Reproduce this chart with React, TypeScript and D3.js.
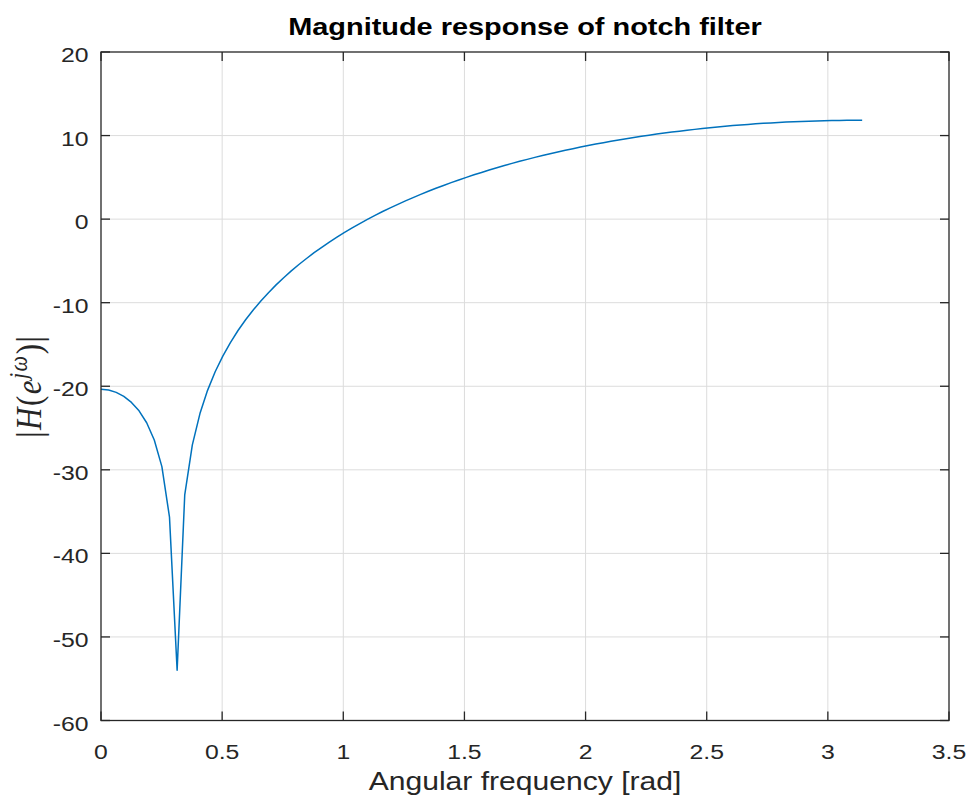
import React, { useEffect, useRef } from 'react';
import * as d3 from 'd3';

// angular frequency samples (rad)
const omega = [
  0, 0.0314, 0.0628, 0.0942, 0.1257, 0.1571, 0.1885, 0.2199, 0.2513, 0.2827,
  0.3142, 0.3456, 0.3770, 0.4084, 0.4398, 0.4712, 0.5027, 0.5341, 0.5655, 0.5969,
  0.6283, 0.6597, 0.6912, 0.7226, 0.7540, 0.7854, 0.8168, 0.8482, 0.8796, 0.9111,
  0.9425, 0.9739, 1.0053, 1.0367, 1.0681, 1.0996, 1.1310, 1.1624, 1.1938, 1.2252,
  1.2566, 1.2881, 1.3195, 1.3509, 1.3823, 1.4137, 1.4451, 1.4765, 1.5080, 1.5394,
  1.5708, 1.6022, 1.6336, 1.6650, 1.6965, 1.7279, 1.7593, 1.7907, 1.8221, 1.8535,
  1.8850, 1.9164, 1.9478, 1.9792, 2.0106, 2.0420, 2.0735, 2.1049, 2.1363, 2.1677,
  2.1991, 2.2305, 2.2619, 2.2934, 2.3248, 2.3562, 2.3876, 2.4190, 2.4504, 2.4819,
  2.5133, 2.5447, 2.5761, 2.6075, 2.6389, 2.6704, 2.7018, 2.7332, 2.7646, 2.7960,
  2.8274, 2.8588, 2.8903, 2.9217, 2.9531, 2.9845, 3.0159, 3.0473, 3.0788, 3.1102,
  3.1416,
];

// magnitude (dB)
const magDb = [
  -20.36, -20.45, -20.73, -21.21, -21.93, -22.94, -24.37, -26.43, -29.62, -35.66,
  -53.98, -33.01, -27.02, -23.27, -20.49, -18.27, -16.39, -14.77, -13.33, -12.04,
  -10.87, -9.79, -8.80, -7.87, -7.01, -6.20, -5.43, -4.71, -4.02, -3.37,
  -2.75, -2.16, -1.59, -1.05, -0.53, -0.03, 0.45, 0.91, 1.35, 1.77,
  2.19, 2.58, 2.96, 3.33, 3.69, 4.03, 4.37, 4.69, 5.00, 5.30,
  5.59, 5.88, 6.15, 6.41, 6.67, 6.92, 7.15, 7.39, 7.61, 7.83,
  8.04, 8.24, 8.43, 8.62, 8.80, 8.98, 9.15, 9.31, 9.47, 9.62,
  9.77, 9.91, 10.05, 10.18, 10.30, 10.42, 10.53, 10.64, 10.74, 10.84,
  10.94, 11.02, 11.11, 11.19, 11.26, 11.33, 11.40, 11.46, 11.51, 11.56,
  11.61, 11.65, 11.69, 11.72, 11.75, 11.78, 11.80, 11.81, 11.82, 11.83,
  11.83,
];

const xTicks = [0, 0.5, 1, 1.5, 2, 2.5, 3, 3.5];
const xTickLabels = ['0', '0.5', '1', '1.5', '2', '2.5', '3', '3.5'];
const yTicks = [-60, -50, -40, -30, -20, -10, 0, 10, 20];
const yTickLabels = ['-60', '-50', '-40', '-30', '-20', '-10', '0', '10', '20'];

const titleText = 'Magnitude response of notch filter';
const xLabelText = 'Angular frequency [rad]';

export default function App() {
  const ref = useRef<SVGSVGElement>(null);

  useEffect(() => {
    const width = 971, height = 805;
    const margin = { top: 52, right: 22, bottom: 84.5, left: 101 };
    const axisColor = '#262626';
    const sans = '"Liberation Sans", Arial, Helvetica, sans-serif';
    const sx = 1.18; // text in the reference is a bit wider than Arial

    const svg = d3.select(ref.current);
    svg.selectAll('*').remove();
    svg.attr('width', width).attr('height', height);

    svg.append('rect').attr('width', width).attr('height', height).attr('fill', '#ffffff');

    const x = d3.scaleLinear().domain([0, 3.5]).range([margin.left, width - margin.right]);
    const y = d3.scaleLinear().domain([-60, 20]).range([height - margin.bottom, margin.top]);

    const [x0, x1] = x.range();
    const [y0, y1] = y.range();

    // grid
    const grid = svg.append('g').attr('stroke', '#dcdcdc').attr('stroke-width', 1);
    grid.selectAll('line.gx')
      .data(xTicks.slice(1, -1))
      .join('line')
      .attr('x1', (d) => x(d)).attr('x2', (d) => x(d))
      .attr('y1', y1).attr('y2', y0);
    grid.selectAll('line.gy')
      .data(yTicks.slice(1, -1))
      .join('line')
      .attr('x1', x0).attr('x2', x1)
      .attr('y1', (d) => y(d)).attr('y2', (d) => y(d));

    // curve
    const pts = omega.map((w, i) => [w, magDb[i]] as [number, number]);
    const line = d3.line<[number, number]>().x((d) => x(d[0])).y((d) => y(d[1]));
    svg.append('path')
      .datum(pts)
      .attr('d', line)
      .attr('fill', 'none')
      .attr('stroke', '#0072BD')
      .attr('stroke-width', 1.5)
      .attr('stroke-linejoin', 'round');

    // ticks (inside, on all four sides)
    const tl = 9;
    const ticks = svg.append('g').attr('stroke', axisColor).attr('stroke-width', 1.3);
    xTicks.forEach((t) => {
      ticks.append('line').attr('x1', x(t)).attr('x2', x(t)).attr('y1', y0).attr('y2', y0 - tl);
      ticks.append('line').attr('x1', x(t)).attr('x2', x(t)).attr('y1', y1).attr('y2', y1 + tl);
    });
    yTicks.forEach((t) => {
      ticks.append('line').attr('x1', x0).attr('x2', x0 + tl).attr('y1', y(t)).attr('y2', y(t));
      ticks.append('line').attr('x1', x1).attr('x2', x1 - tl).attr('y1', y(t)).attr('y2', y(t));
    });

    // box
    svg.append('rect')
      .attr('x', x0).attr('y', y1)
      .attr('width', x1 - x0).attr('height', y0 - y1)
      .attr('fill', 'none')
      .attr('stroke', axisColor)
      .attr('stroke-width', 1.3);

    // tick labels
    svg.append('g')
      .selectAll('text')
      .data(xTicks)
      .join('text')
      .attr('transform', (d) => `translate(${x(d)}, ${y0 + 38.5}) scale(${sx}, 1)`)
      .attr('text-anchor', 'middle')
      .style('font', `21px ${sans}`)
      .attr('fill', axisColor)
      .text((d, i) => xTickLabels[i]);

    svg.append('g')
      .selectAll('text')
      .data(yTicks)
      .join('text')
      .attr('transform', (d) => `translate(${x0 - 12.5}, ${y(d) + 10}) scale(${sx}, 1)`)
      .attr('text-anchor', 'end')
      .style('font', `21px ${sans}`)
      .attr('fill', axisColor)
      .text((d, i) => yTickLabels[i]);

    // title
    svg.append('text')
      .attr('transform', `translate(${(x0 + x1) / 2}, 35) scale(${sx}, 1)`)
      .attr('text-anchor', 'middle')
      .style('font', `bold 24.5px ${sans}`)
      .attr('fill', '#000000')
      .text(titleText);

    // x label
    svg.append('text')
      .attr('transform', `translate(${(x0 + x1) / 2}, 790) scale(${sx}, 1)`)
      .attr('text-anchor', 'middle')
      .style('font', `25.5px ${sans}`)
      .attr('fill', axisColor)
      .text(xLabelText);

    // y label |H(e^{jw})|
    const yl = svg.append('text')
      .attr('transform', `translate(41, ${(y0 + y1) / 2}) scale(${sx}, 1) rotate(-90)`)
      .attr('text-anchor', 'middle')
      .style('font', `31px "Liberation Serif", "DejaVu Serif", serif`)
      .style('letter-spacing', '1.5px')
      .attr('fill', axisColor);
    yl.append('tspan').text('|');
    yl.append('tspan').style('font-style', 'italic').text('H');
    yl.append('tspan').text('(');
    yl.append('tspan').style('font-style', 'italic').text('e');
    yl.append('tspan').style('font-style', 'italic').style('font-size', '22px').attr('dy', -12).text('jω');
    yl.append('tspan').attr('dy', 12).text(')|');
  }, []);

  return (
    <div style={{ position: 'absolute', left: 0, top: 0, background: '#ffffff' }}>
      <svg ref={ref}></svg>
    </div>
  );
}
